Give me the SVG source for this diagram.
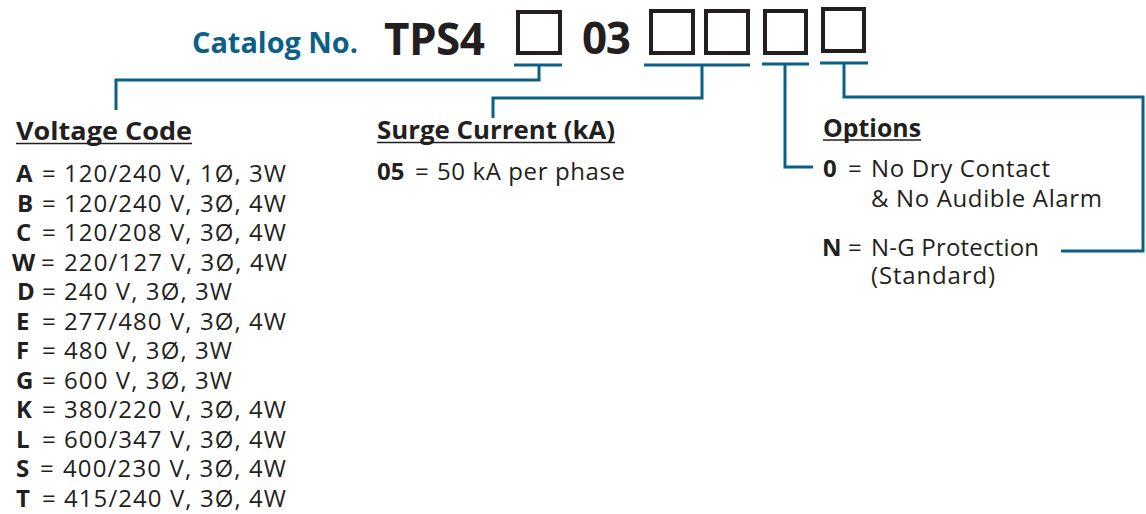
<svg xmlns="http://www.w3.org/2000/svg" width="1146" height="514" viewBox="0 0 1146 514">
<style>
.t{font-family:"Open Sans","Noto Sans","Liberation Sans",sans-serif;fill:#231f20;font-size:24px}
.b{font-weight:bold}
.h{font-family:"Open Sans","Noto Sans","Liberation Sans",sans-serif;fill:#231f20;font-size:25.5px;font-weight:bold}
.cat{font-family:"Open Sans","Noto Sans","Liberation Sans",sans-serif;fill:#0c5f87;font-size:28px;font-weight:bold}
.big{font-family:"Open Sans","Noto Sans","Liberation Sans",sans-serif;fill:#231f20;font-size:44px;font-weight:bold}
.box{fill:none;stroke:#231f20;stroke-width:4}
.c{fill:none;stroke:#0c5f87;stroke-width:3}
.u{stroke:#231f20;stroke-width:1.6}
</style>
<rect width="1146" height="514" fill="#ffffff"/>
<g id="catalog">
<text class="cat" x="192" y="53" textLength="166" lengthAdjust="spacingAndGlyphs">Catalog No.</text>
<text class="big" x="384" y="55" textLength="101">TPS4</text>
<rect class="box" x="518" y="12" width="42" height="41"/>
<text class="big" x="582" y="54" textLength="49">03</text>
<rect class="box" x="651" y="11" width="42" height="42"/>
<rect class="box" x="706" y="11" width="42" height="42"/>
<rect class="box" x="765" y="11" width="41" height="42"/>
<rect class="box" x="823" y="9" width="41" height="42"/>
</g>
<g id="connectors">
<line class="c" x1="514" y1="65" x2="562" y2="65"/>
<polyline class="c" points="539,65 539,80 116,80 116,110"/>
<line class="c" x1="644" y1="65" x2="750" y2="65"/>
<polyline class="c" points="702,65 702,98 493,98 493,118"/>
<line class="c" x1="762" y1="64" x2="809" y2="64"/>
<polyline class="c" points="785,64 785,167 813,167"/>
<line class="c" x1="820" y1="63" x2="868" y2="63"/>
<polyline class="c" points="844,63 844,97 1143,97 1143,251 1061,251"/>
</g>
<g id="voltage-code">
<text class="h" x="16" y="140" textLength="176" lengthAdjust="spacingAndGlyphs">Voltage Code</text>
<line class="u" x1="16" y1="143.5" x2="192" y2="143.5"/>
<g class="t">
<text class="b" x="16" y="182">A</text><text x="42" y="182">=</text><text x="64" y="182" textLength="222">120/240 V, 1Ø, 3W</text>
<text class="b" x="17" y="211.5">B</text><text x="42" y="211.5">=</text><text x="64" y="211.5" textLength="222">120/240 V, 3Ø, 4W</text>
<text class="b" x="16" y="241">C</text><text x="42" y="241">=</text><text x="64" y="241" textLength="222">120/208 V, 3Ø, 4W</text>
<text class="b" x="12" y="270.5">W</text><text x="41" y="270.5">=</text><text x="64" y="270.5" textLength="223">220/127 V, 3Ø, 4W</text>
<text class="b" x="17" y="300">D</text><text x="42" y="300">=</text><text x="64" y="300" textLength="168">240 V, 3Ø, 3W</text>
<text class="b" x="16" y="329.5">E</text><text x="42" y="329.5">=</text><text x="64" y="329.5" textLength="222">277/480 V, 3Ø, 4W</text>
<text class="b" x="16" y="359">F</text><text x="42" y="359">=</text><text x="64" y="359" textLength="168">480 V, 3Ø, 3W</text>
<text class="b" x="16" y="388.5">G</text><text x="42" y="388.5">=</text><text x="64" y="388.5" textLength="168">600 V, 3Ø, 3W</text>
<text class="b" x="16" y="418">K</text><text x="42" y="418">=</text><text x="64" y="418" textLength="222">380/220 V, 3Ø, 4W</text>
<text class="b" x="16" y="447.5">L</text><text x="42" y="447.5">=</text><text x="64" y="447.5" textLength="222">600/347 V, 3Ø, 4W</text>
<text class="b" x="16" y="477">S</text><text x="40" y="477">=</text><text x="63" y="477" textLength="223">400/230 V, 3Ø, 4W</text>
<text class="b" x="16" y="506.5">T</text><text x="42" y="506.5">=</text><text x="64" y="506.5" textLength="222">415/240 V, 3Ø, 4W</text>
</g>
</g>
<g id="surge-current">
<text class="h" x="377" y="139" textLength="238" lengthAdjust="spacingAndGlyphs">Surge Current (kA)</text>
<line class="u" x1="377" y1="142.5" x2="615" y2="142.5"/>
<g class="t">
<text class="b" x="377" y="180">05</text><text x="415" y="180">=</text><text x="437" y="180" textLength="188">50 kA per phase</text>
</g>
</g>
<g id="options">
<text class="h" x="823" y="137" textLength="98" lengthAdjust="spacingAndGlyphs">Options</text>
<line class="u" x1="823" y1="140" x2="921" y2="140"/>
<g class="t">
<text class="b" x="823" y="177">0</text><text x="848" y="177">=</text><text x="871" y="177" textLength="179">No Dry Contact</text>
<text x="871" y="207" textLength="231">&amp; No Audible Alarm</text>
<text class="b" x="822" y="256">N</text><text x="848" y="256">=</text><text x="871" y="256" textLength="168">N-G Protection</text>
<text x="871" y="284" textLength="124">(Standard)</text>
</g>
</g>
</svg>
